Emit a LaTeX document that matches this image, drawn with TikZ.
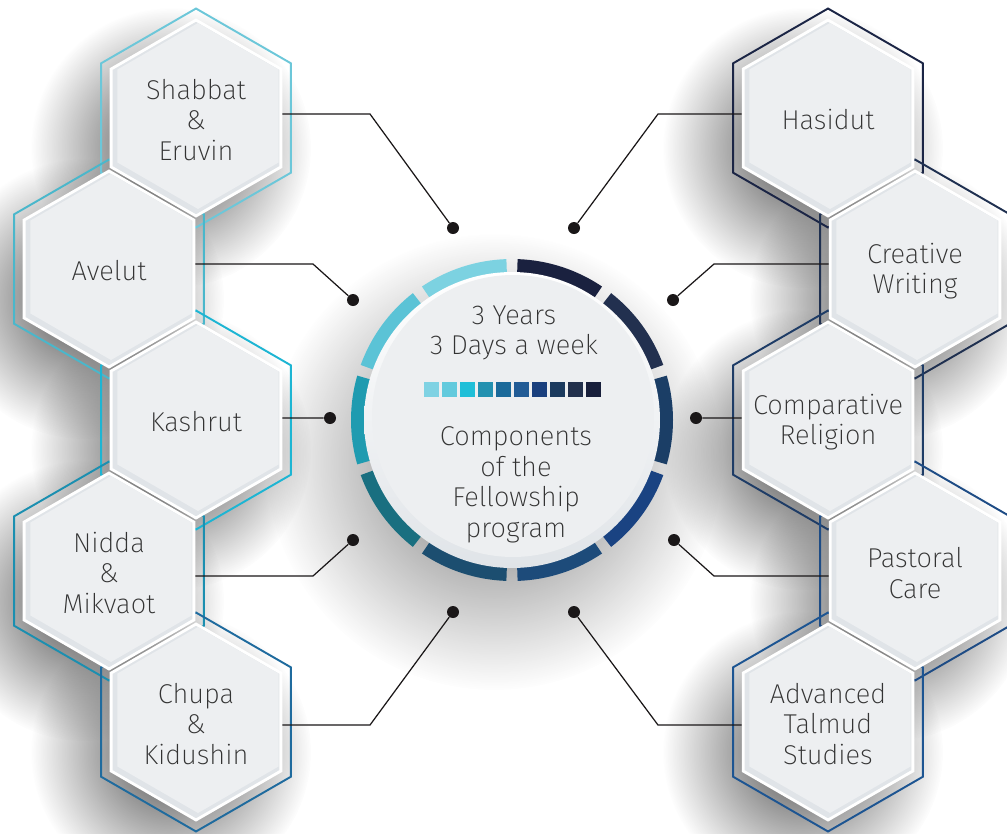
\documentclass[tikz,border=0pt]{standalone}
\usepackage{fontspec}
\setmainfont{Fira Sans}[UprightFont=* ExtraLight]
\usepackage{xcolor}
\usetikzlibrary{shapes.geometric,fadings}
\definecolor{facegray}{HTML}{EDEFF1}
\definecolor{rimgray}{HTML}{E0E4E8}
\definecolor{textgray}{HTML}{333333}
\definecolor{dotblack}{HTML}{1A1718}
\definecolor{outS}{HTML}{6CC7D9}
\definecolor{outA}{HTML}{4AB7CB}
\definecolor{outK}{HTML}{1DB5D3}
\definecolor{outN}{HTML}{1B8FB0}
\definecolor{outC}{HTML}{1F6B9E}
\definecolor{outH}{HTML}{1B2545}
\definecolor{outW}{HTML}{1F3050}
\definecolor{outR}{HTML}{1E3C66}
\definecolor{outP}{HTML}{1E4C85}
\definecolor{outT}{HTML}{1D5592}
\definecolor{ring1}{HTML}{7CD2E1}
\definecolor{ring2}{HTML}{5BC3D6}
\definecolor{ring3}{HTML}{1F9BB0}
\definecolor{ring4}{HTML}{196F80}
\definecolor{ring5}{HTML}{1C4E70}
\definecolor{ring6}{HTML}{1D4B7A}
\definecolor{ring7}{HTML}{1A4382}
\definecolor{ring8}{HTML}{1B3E66}
\definecolor{ring9}{HTML}{22304F}
\definecolor{ring10}{HTML}{1A213F}
\definecolor{bar1}{HTML}{7FD2E3}
\definecolor{bar2}{HTML}{62CADD}
\definecolor{bar3}{HTML}{1FBFD8}
\definecolor{bar4}{HTML}{2391B0}
\definecolor{bar5}{HTML}{1B6A9A}
\definecolor{bar6}{HTML}{225C96}
\definecolor{bar7}{HTML}{1A407E}
\definecolor{bar8}{HTML}{1B3A5E}
\definecolor{bar9}{HTML}{22304C}
\definecolor{bar10}{HTML}{181F3B}
\tikzfading[name=shadowfade, inner color=transparent!0, outer color=transparent!100]

\begin{document}
\begin{tikzpicture}[x=0.02cm, y=-0.02cm,
  hexline/.style={regular polygon, regular polygon sides=6, shape border rotate=30, minimum size=4.38cm, inner sep=0pt, line width=1.1pt},
  hexbase/.style={regular polygon, regular polygon sides=6, shape border rotate=30, minimum size=3.92cm, inner sep=0pt, fill=rimgray, draw=white, line width=1.6pt},
  hexface/.style={regular polygon, regular polygon sides=6, shape border rotate=30, minimum size=3.72cm, inner sep=0pt, fill=facegray},
  hextext/.style={align=center, text=textgray, font=\fontsize{15.5}{17.4}\selectfont},
  dot/.style={circle, fill=dotblack, minimum size=0.24cm, inner sep=0pt},
  link/.style={draw=dotblack, line width=0.7pt},
  barsq/.style={minimum size=0.3cm, inner sep=0pt}]
  \useasboundingbox[fill=white] (0,0) rectangle (1007,833);

  \fill[black!55, path fading=shadowfade] (494,462) circle[radius=228];
  \foreach \x/\y in {196/118, 109/269, 196/420, 109/571, 196/722, 828/118, 915/269, 828/420, 915/571, 828/722}
    \fill[black!70, path fading=shadowfade] (\x-25,\y+30) circle[radius=140];

  \foreach \n/\x/\y/\c in {shabbat/196/118/outS, avelut/109/269/outA, kashrut/196/420/outK, nidda/109/571/outN, chupa/196/722/outC,
      hasidut/828/118/outH, creative/915/269/outW, comparative/828/420/outR, pastoral/915/571/outP, advanced/828/722/outT}
    \node[hexline, draw=\c] (\n-line) at (\x,\y) {};

  \foreach \n/\x/\y/\t in {shabbat/196/118/{Shabbat\\\&\\Eruvin}, avelut/109/269/{Avelut}, kashrut/196/420/{Kashrut},
      nidda/109/571/{Nidda\\\&\\Mikvaot}, chupa/196/722/{Chupa\\\&\\Kidushin}, hasidut/828/118/{Hasidut},
      creative/915/269/{Creative\\Writing}, comparative/828/420/{Comparative\\Religion}, pastoral/915/571/{Pastoral\\Care},
      advanced/828/722/{Advanced\\Talmud\\Studies}} {
    \node[hexbase] (\n) at (\x,\y) {};
    \node[hexface] (\n-face) at (\x+2,\y-2) {};
    \node[hextext] (\n-text) at (\x,\y+2) {\t};
  }

  \node[dot] (d1) at (453,228) {};
  \node[dot] (d2) at (353,300) {};
  \node[dot] (d3) at (330,418) {};
  \node[dot] (d4) at (353,540) {};
  \node[dot] (d5) at (453,612) {};
  \node[dot] (d6) at (574,228) {};
  \node[dot] (d7) at (673,300) {};
  \node[dot] (d8) at (696,418) {};
  \node[dot] (d9) at (674,540) {};
  \node[dot] (d10) at (574,612) {};

  \draw[link] ([yshift=0.08cm]shabbat.east) -- (370,114) -- (d1);
  \draw[link] ([yshift=0.1cm]avelut.east) -- (313,264) -- (d2);
  \draw[link] ([yshift=0.04cm]kashrut.east) -- (d3);
  \draw[link] ([yshift=-0.1cm]nidda.east) -- (313,576) -- (d4);
  \draw[link] ([yshift=-0.06cm]chupa.east) -- (370,725) -- (d5);
  \draw[link] ([yshift=0.08cm]hasidut.west) -- (658,114) -- (d6);
  \draw[link] ([yshift=0.1cm]creative.west) -- (714,264) -- (d7);
  \draw[link] ([yshift=0.04cm]comparative.west) -- (d8);
  \draw[link] ([yshift=-0.1cm]pastoral.west) -- (714,576) -- (d9);
  \draw[link] ([yshift=-0.06cm]advanced.west) -- (658,725) -- (d10);

  \foreach \a/\c in {108/ring1, 144/ring2, 180/ring3, 216/ring4, 252/ring5, 288/ring6, 324/ring7, 0/ring8, 36/ring9, 72/ring10}
    \fill[\c, shift={(512,420)}] (-\a+16:147) arc[start angle=-\a+16, end angle=-\a-16, radius=147]
      -- (-\a-16:161) arc[start angle=-\a-16, end angle=-\a+16, radius=161] -- cycle;

  \node[circle, minimum size=5.92cm, inner sep=0pt, top color=white, bottom color=rimgray] (core) at (512,420) {};
  \node[circle, minimum size=5.64cm, inner sep=0pt, fill=facegray] (core-face) at (513,416) {};

  \node[hextext] (years) at (514,333) {3 Years\\3 Days a week};
  \foreach \c [count=\i from 0] in {bar1,bar2,bar3,bar4,bar5,bar6,bar7,bar8,bar9,bar10}
    \node[barsq, fill=\c] (sq\i) at (431.5+18*\i,389.5) {};
  \node[hextext] (components) at (516,485) {Components\\of the\\Fellowship\\program};
\end{tikzpicture}
\end{document}
